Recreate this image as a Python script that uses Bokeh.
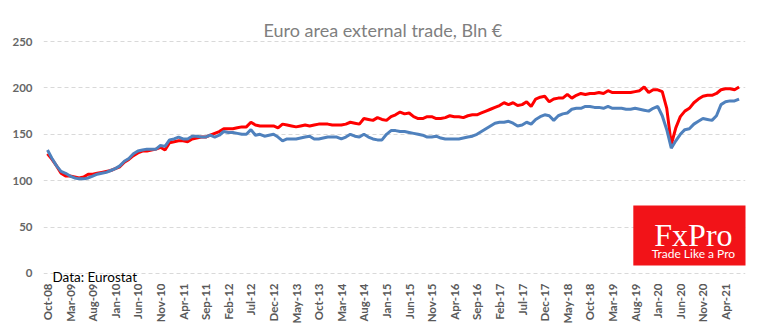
import numpy as np
import pandas as pd
from bokeh.plotting import figure
from bokeh.models import Range1d, FixedTicker, Label, BoxAnnotation, ColumnDataSource
from bokeh.embed import file_html
from bokeh.resources import INLINE

months = [d.strftime("%b-%y") for d in pd.date_range("2008-10-01", periods=154, freq="MS")]

exports = [129,123,116,108,105,105,104,103,104,107,
           107,108,109,110,111,113,115,120,123,127,
           130,132,132,133,134,136,133,141,142,143,
           143,142,145,146,147,147,149,151,153,156,
           156,156,157,158,158,163,160,159,159,159,
           159,157,161,160,159,158,159,160,159,160,
           161,161,161,160,160,160,161,163,162,161,
           167,166,165,168,166,165,169,171,174,172,
           173,169,167,167,169,169,167,167,168,170,
           169,169,168,170,171,171,173,175,177,179,
           181,184,182,184,181,182,185,180,188,190,
           191,185,188,189,189,193,189,192,194,193,
           194,194,195,194,197,195,195,195,195,195,
           196,197,201,195,198,198,196,178,139,157,
           169,175,178,184,188,191,192,192,194,198,
           199,199,198,201]

imports = [133,124,116,110,108,105,103,102,102,103,
           105,107,108,109,111,113,116,121,124,129,
           132,133,134,134,134,138,137,144,145,147,
           145,145,148,148,147,147,149,147,149,153,
           152,152,151,150,150,155,149,150,148,149,
           150,147,143,145,145,145,146,147,148,145,
           145,146,147,147,147,145,147,150,148,147,
           150,147,145,144,144,150,154,154,153,153,
           152,151,150,149,147,147,148,146,145,145,
           145,145,146,147,148,150,153,156,159,162,
           163,163,164,162,159,160,163,161,166,169,
           171,170,165,170,172,173,177,178,178,180,
           180,179,179,178,180,178,178,178,177,177,
           178,177,176,175,178,180,170,155,135,143,
           150,155,156,161,164,167,166,165,170,182,
           185,186,186,188]

tick_labels = ["Oct-08","Mar-09","Aug-09","Jan-10","Jun-10","Nov-10","Apr-11","Sep-11",
               "Feb-12","Jul-12","Dec-12","May-13","Oct-13","Mar-14","Aug-14","Jan-15",
               "Jun-15","Nov-15","Apr-16","Sep-16","Feb-17","Jul-17","Dec-17","May-18",
               "Oct-18","Mar-19","Aug-19","Jan-20","Jun-20","Nov-20","Apr-21"]
y_ticks = [0, 50, 100, 150, 200, 250]

title_text = "Euro area external trade, Bln €"
source_text = "Data: Eurostat"

idx = list(range(len(months)))
tick_pos = [months.index(t) for t in tick_labels]

src = ColumnDataSource(dict(x=idx, month=months, exp=exports, imp=imports))

p = figure(width=770, height=330, output_backend="svg", toolbar_location=None,
           x_range=Range1d(-0.885, 154.42), y_range=Range1d(-9.7, 294.2),
           min_border_left=43, min_border_right=25, min_border_top=0, min_border_bottom=48)
p.outline_line_color = None
p.background_fill_color = "white"
p.border_fill_color = "white"

p.line("x", "exp", source=src, line_color="#ff0000", line_width=3)
p.line("x", "imp", source=src, line_color="#4f81bd", line_width=3)

xa = p.xaxis[0]
xa.ticker = FixedTicker(ticks=tick_pos)
xa.major_label_overrides = {pos: lab for pos, lab in zip(tick_pos, tick_labels)}
xa.major_label_orientation = np.pi / 2
xa.axis_line_color = None
xa.major_tick_line_color = None
xa.minor_tick_line_color = None
xa.major_tick_out = 0
xa.major_tick_in = 0
xa.major_label_standoff = 1
xa.major_label_text_font = "Lato"
xa.major_label_text_font_style = "bold"
xa.major_label_text_font_size = "11.5px"
xa.major_label_text_color = "#595959"

ya = p.yaxis[0]
ya.ticker = FixedTicker(ticks=y_ticks)
ya.axis_line_color = None
ya.major_tick_line_color = None
ya.minor_tick_line_color = None
ya.major_tick_out = 0
ya.major_tick_in = 0
ya.major_label_standoff = 11
ya.major_label_text_font = "Lato"
ya.major_label_text_font_style = "bold"
ya.major_label_text_font_size = "11.5px"
ya.major_label_text_color = "#666666"

p.xgrid.grid_line_color = None
p.ygrid.ticker = FixedTicker(ticks=y_ticks)
p.ygrid.grid_line_color = "#d9d9d9"
p.ygrid.grid_line_dash = "4 3"
p.ygrid.grid_line_width = 1

p.add_layout(Label(x=74.2, y=261.9, text=title_text, text_align="center",
                   text_baseline="alphabetic", text_font="Lato", text_font_size="18px",
                   text_color="#7f7f7f"))
p.add_layout(Label(x=1.1, y=-3.8, text=source_text, text_align="left",
                   text_baseline="alphabetic", text_font="Lato", text_font_size="13.5px",
                   text_color="#000000"))

p.add_layout(BoxAnnotation(left=129.6, right=156.0, bottom=8.6, top=73.3,
                           fill_color="#f21318", fill_alpha=1.0, line_alpha=0))
p.add_layout(Label(x=142.9, y=41.5, text="FxPro", text_align="center",
                   text_baseline="alphabetic", text_font="Liberation Serif",
                   text_font_size="32px", text_color="white"))
p.add_layout(Label(x=142.9, y=21.8, text="Trade Like a Pro", text_align="center",
                   text_baseline="alphabetic", text_font="Lato",
                   text_font_size="12px", text_color="white"))

open("out.html", "w").write(file_html(p, INLINE))
